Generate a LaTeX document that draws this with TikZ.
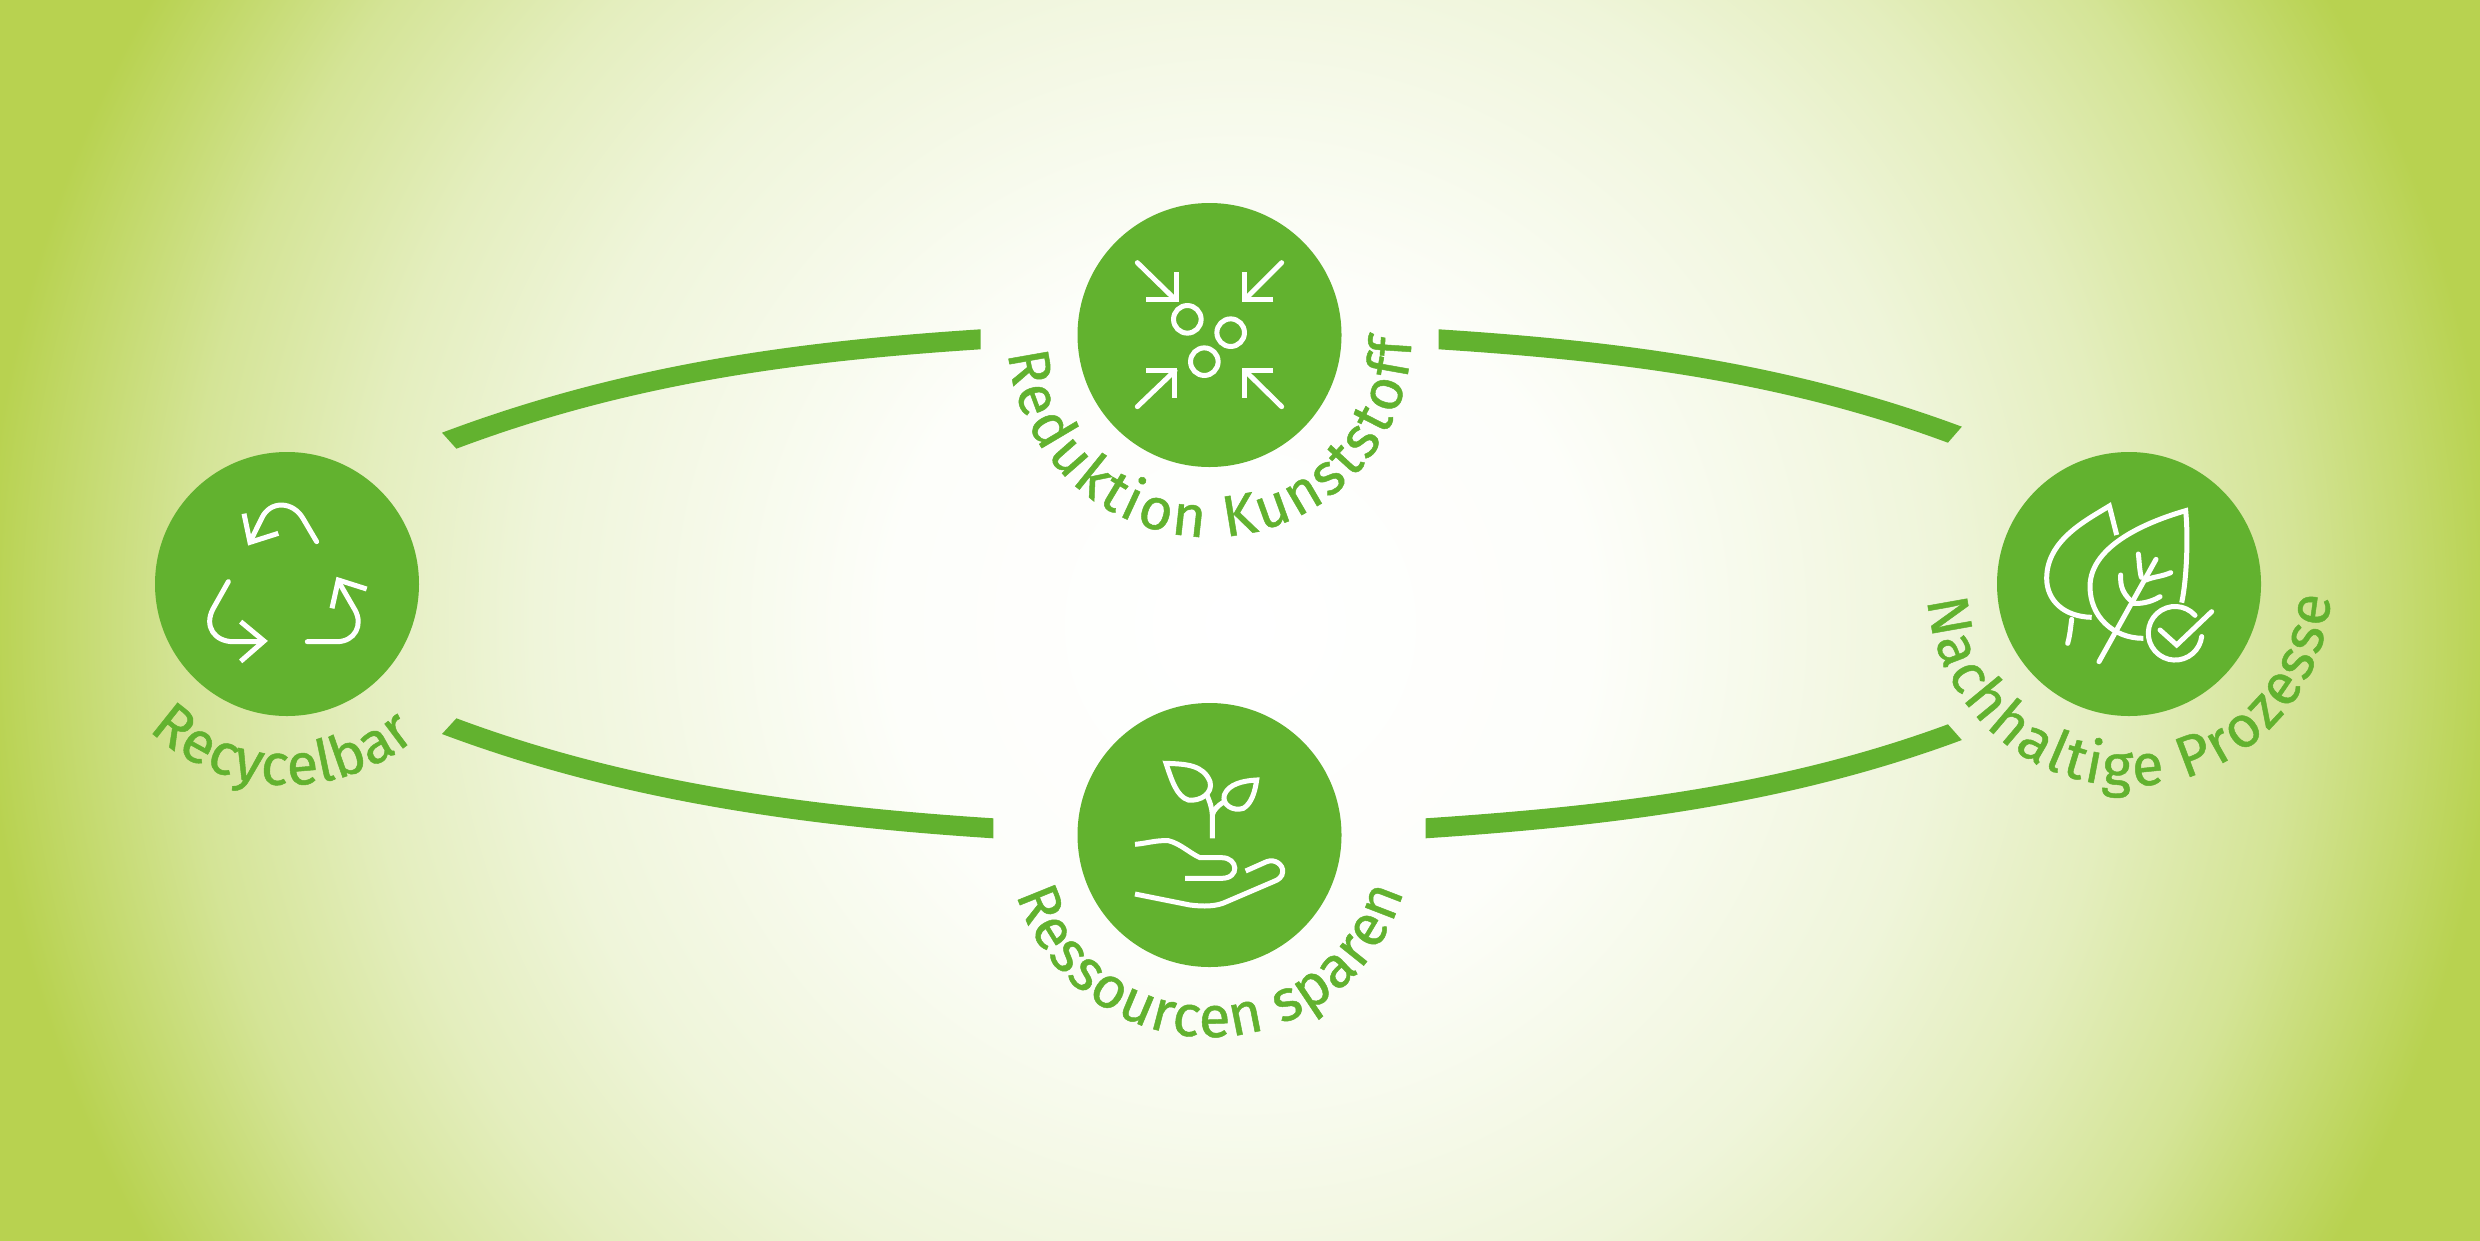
\documentclass[tikz,border=0pt]{standalone}
\usepackage{fontspec}
\usetikzlibrary{decorations.text}
\newfontfamily\labfont[FakeBold=0.8]{Fira Sans}
\definecolor{leaf}{RGB}{98,178,47}
\definecolor{edgegreen}{RGB}{184,210,80}
\definecolor{gA}{RGB}{253,254,250}
\definecolor{gB}{RGB}{239,245,218}
\definecolor{gC}{RGB}{228,238,190}
\definecolor{gD}{RGB}{212,228,150}
\pgfdeclareradialshading{bgglow}{\pgfpointorigin}{color(0bp)=(white); color(7bp)=(gA); color(14bp)=(gB); color(17.5bp)=(gC); color(21bp)=(gD); color(25bp)=(edgegreen); color(50bp)=(edgegreen)}
\newcommand\lab{\labfont\fontsize{58}{64}\selectfont\color{leaf}}
\tikzset{
  disc/.style={circle,fill=leaf,draw=none,minimum size=264pt,inner sep=0pt},
  bond/.style={fill=leaf,draw=none},
  icon/.style={draw=white,line width=5pt,line cap=round,line join=miter,fill=none},
  iconbutt/.style={icon,line cap=butt},
}
\begin{document}
\begin{tikzpicture}[x=1pt,y=-1pt]
\useasboundingbox (0,0) rectangle (2480,1240);
\fill[edgegreen] (-4,-4) rectangle (2484,1244);
\begin{scope}
\clip (-4,-4) rectangle (2484,1244);
\shade[shading=bgglow] (1240,625) circle[radius=1257pt];
\end{scope}

% discs
\node[disc] (recycle) at (287,584) {};
\node[disc] (reduce) at (1209.5,335) {};
\node[disc] (save) at (1209.5,835) {};
\node[disc] (green) at (2129,584) {};

% connector ends
\coordinate (a1u) at (442,432.7);
\coordinate (a1l) at (456.4,448.7);
\coordinate (a2u) at (980.6,329.3);
\coordinate (a2l) at (980.6,349.3);
\coordinate (b1u) at (1438.6,329.3);
\coordinate (b1l) at (1438.6,349.3);
\coordinate (b2u) at (1961.8,426.7);
\coordinate (b2l) at (1947.9,442.7);
\coordinate (c1u) at (456.4,718.3);
\coordinate (c1l) at (442,734);
\coordinate (c2u) at (993.3,818.3);
\coordinate (c2l) at (993.3,838.3);
\coordinate (d1u) at (1425.7,818.3);
\coordinate (d1l) at (1425.7,838.3);
\coordinate (d2u) at (1947.9,724.3);
\coordinate (d2l) at (1961.8,740);
\path[bond] (a1u) .. controls (625.5,363.6) and (800,341) .. (a2u) -- (a2l) .. controls (801.2,361) and (632.5,382.4) .. (a1l) -- cycle;
\path[bond] (b1u) .. controls (1609,340.3) and (1783.5,360.3) .. (b2u) -- (b2l) .. controls (1776.5,379.1) and (1608,360.3) .. (b1l) -- cycle;
\path[bond] (c1u) .. controls (632.5,784.1) and (813.7,806.6) .. (c2u) -- (c2l) .. controls (812.3,826.6) and (625.5,802.9) .. (c1l) -- cycle;
\path[bond] (d1u) .. controls (1599.3,806.6) and (1776.5,787.6) .. (d2u) -- (d2l) .. controls (1783.5,806.4) and (1600.7,826.6) .. (d1l) -- cycle;

% curved labels
\path[shift={(recycle)},decorate,decoration={text along path,text align={fit to path},text={|\lab|Recycelbar}}]
  (226.5:201pt) arc[start angle=226.5,end angle=310,radius=201pt];
\path[shift={(reduce)},decorate,decoration={text along path,text align={fit to path},text={|\lab|Reduktion Kunststoff}}]
  (185.1:202pt) arc[start angle=185.1,end angle=359,radius=202pt];
\path[shift={(save)},decorate,decoration={text along path,text align={fit to path},text={|\lab|Ressourcen sparen}}]
  (197.1:202pt) arc[start angle=197.1,end angle=343.7,radius=202pt];
\path[shift={(green)},decorate,decoration={text along path,text align={fit to path},text={|\lab|Nachhaltige Prozesse}}]
  (184.5:202pt) arc[start angle=184.5,end angle=356.5,radius=202pt];

% recycle icon
\begin{scope}[shift={(120,420)},x=0.33333pt,y=-0.33333pt]
\draw[icon] (590,365) -- (550,297) .. controls (520,243) and (450,240) .. (425,295) -- (392,362);
\draw[iconbutt] (372,281) -- (390,367) -- (475,340);
\draw[icon] (325,485) -- (280,565) .. controls (250,620) and (285,665) .. (340,665) -- (425,665);
\draw[iconbutt] (362,605) -- (432,663) -- (362,724);
\draw[icon] (562,665) -- (650,665) .. controls (705,665) and (730,615) .. (705,570) -- (657,487);
\draw[iconbutt] (636,565) -- (655,480) -- (740,507);
\end{scope}

% reduction icon
\begin{scope}[shift={(980,180)},x=0.33333pt,y=-0.33333pt]
\draw[icon] (472,248) -- (585,358);
\draw[iconbutt] (498,358) -- (590,358) -- (590,275);
\draw[icon] (905,248) -- (795,358);
\draw[iconbutt] (880,358) -- (792,358) -- (792,275);
\draw[icon] (472,680) -- (585,572);
\draw[iconbutt] (498,570) -- (584,570) -- (584,655);
\draw[icon] (905,680) -- (795,572);
\draw[iconbutt] (880,570) -- (792,570) -- (792,655);
\draw[icon] (622,418) circle[radius=13.8pt];
\draw[icon] (752,458) circle[radius=13.8pt];
\draw[icon] (673,545) circle[radius=13.8pt];
\end{scope}

% seedling and hand icon
\begin{scope}[shift={(980,680)},x=0.33333pt,y=-0.33333pt]
\draw[icon,line join=miter] (558,250) .. controls (620,252) and (670,255) .. (690,305) .. controls (700,340) and (660,365) .. (625,360) .. controls (590,350) and (575,300) .. cycle;
\draw[icon,line join=miter] (830,300) .. controls (790,302) and (745,312) .. (733,345) .. controls (725,375) and (760,395) .. (790,385) .. controls (815,370) and (825,335) .. cycle;
\draw[iconbutt] (697,475) -- (697,405) .. controls (695,380) and (690,365) .. (678,340);
\draw[iconbutt] (697,405) .. controls (700,390) and (715,375) .. (733,365);
\draw[iconbutt] (465,493) .. controls (500,490) and (530,480) .. (565,482) .. controls (600,490) and (630,520) .. (660,533) -- (725,533) .. controls (775,533) and (780,595) .. (725,595) -- (615,595);
\draw[iconbutt] (797,573) -- (860,545) .. controls (885,535) and (910,555) .. (908,575) .. controls (908,590) and (895,600) .. (880,605) -- (740,665) .. controls (710,680) and (670,680) .. (630,675) -- (465,642);
\end{scope}

% leaves and check icon
\begin{scope}[shift={(1900,420)},x=0.33333pt,y=-0.33333pt]
\draw[iconbutt] (650,345) -- (628,258) .. controls (560,300) and (440,360) .. (440,475) .. controls (440,540) and (490,590) .. (575,592);
\draw[icon] (503,670) .. controls (510,645) and (512,620) .. (515,598);
\draw[iconbutt] (845,548) .. controls (860,480) and (865,350) .. (857,272) .. controls (760,300) and (570,370) .. (570,500) .. controls (570,590) and (640,655) .. (730,655);
\draw[icon] (597,725) -- (700,540) -- (768,418);
\draw[icon] (715,402) .. controls (718,425) and (718,450) .. (724,472);
\draw[icon] (812,458) .. controls (785,470) and (760,470) .. (738,480);
\draw[icon] (662,465) .. controls (660,500) and (670,520) .. (690,540);
\draw[icon] (780,530) .. controls (750,548) and (720,552) .. (695,550);
\draw[icon] (885,586) arc[start angle=42,end angle=353,radius=26.8pt];
\draw[icon] (780,630) -- (830,675) -- (935,575);
\end{scope}
\end{tikzpicture}
\end{document}
